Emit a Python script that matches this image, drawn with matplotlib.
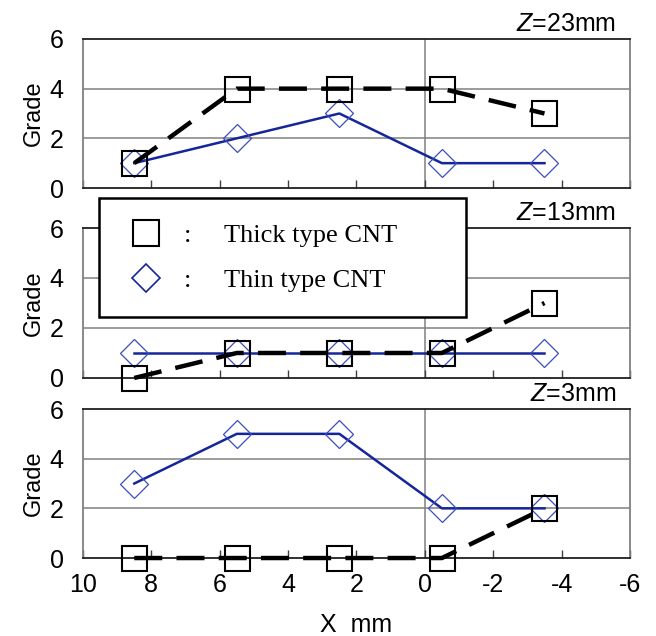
import matplotlib.pyplot as plt
from matplotlib.lines import Line2D

plt.rcParams['font.family'] = ['Liberation Sans', 'DejaVu Sans']
plt.rcParams['axes.unicode_minus'] = False
plt.rcParams['mathtext.fontset'] = 'custom'
plt.rcParams['mathtext.it'] = 'Liberation Sans:italic'
plt.rcParams['mathtext.rm'] = 'Liberation Sans'

# Data
x_mm = [8.5, 5.5, 2.5, -0.5, -3.5]
z_labels = ['23mm', '13mm', '3mm']
thick_cnt = [
    [1, 4, 4, 4, 3],   # Z=23mm
    [0, 1, 1, 1, 3],   # Z=13mm
    [0, 0, 0, 0, 2],   # Z=3mm
]
thin_cnt = [
    [1, 2, 3, 1, 1],
    [1, 1, 1, 1, 1],
    [3, 5, 5, 2, 2],
]
x_ticks = [10, 8, 6, 4, 2, 0, -2, -4, -6]
y_ticks = [0, 2, 4, 6]

fig = plt.figure(figsize=(6.56, 6.36), dpi=100)

# panel boxes [left, bottom, width, height] in figure fraction
boxes = [
    [0.1265, 0.7044, 0.8338, 0.2343],
    [0.1265, 0.4057, 0.8338, 0.2358],
    [0.1265, 0.1226, 0.8338, 0.2343],
]

thin_color = '#14269a'
diamond_color = '#3a4cc0'
grid_color = '#808080'

axes = []
for i, box in enumerate(boxes):
    ax = fig.add_axes(box)
    axes.append(ax)

    # gridlines at 2 and 4, vertical line at x=0
    for yv in [2, 4]:
        ax.axhline(yv, color=grid_color, lw=1.1, zorder=1)
    ax.axvline(0, color=grid_color, lw=1.1, zorder=1)

    # thin type CNT - blue solid line, hollow diamonds
    ax.plot(x_mm, thin_cnt[i], color=thin_color, lw=1.8, zorder=3)
    ax.plot(x_mm, thin_cnt[i], ls='none', marker='D', ms=14,
            mfc='none', mec=diamond_color, mew=0.9, zorder=4,
            clip_on=False)

    # thick type CNT - black dashed line, hollow squares
    ax.plot(x_mm, thick_cnt[i], color='black', lw=3.2, dashes=(6.3, 3.2),
            zorder=5, clip_on=False)
    ax.plot(x_mm, thick_cnt[i], ls='none', marker='s', ms=18,
            mfc='none', mec='black', mew=1.5, zorder=6, clip_on=False)

    ax.set_xlim(10, -6)
    ax.set_ylim(0, 6)
    ax.set_xticks(x_ticks)
    ax.set_yticks(y_ticks)
    ax.tick_params(axis='x', direction='in', length=6, width=1,
                   color='#404040', labelsize=18, pad=11)
    ax.tick_params(axis='y', length=0, labelsize=18, pad=14)
    if i < 2:
        ax.tick_params(axis='x', labelbottom=False)
    for side in ['left', 'right']:
        ax.spines[side].set_color(grid_color)
        ax.spines[side].set_linewidth(1.3)
    for side in ['top', 'bottom']:
        ax.spines[side].set_color('#202020')
        ax.spines[side].set_linewidth(1.3)

    ax.set_ylabel('Grade', fontsize=17, labelpad=3)
    ax.text(0.975, 1.02, r'$\mathit{Z}$=' + z_labels[i], transform=ax.transAxes,
            ha='right', va='bottom', fontsize=18)

axes[-1].set_xlabel('X  mm', fontsize=18, labelpad=11)

# legend
handles = [
    Line2D([], [], ls='none', marker='s', ms=19, mfc='none', mec='black', mew=1.5),
    Line2D([], [], ls='none', marker='D', ms=14, mfc='none', mec=thin_color, mew=1.2),
]
labels = [':     Thick type CNT', ':     Thin type CNT']
leg = fig.legend(handles, labels, loc='upper left',
                 bbox_to_anchor=(0.151, 0.688, 0.559, 0.0), mode='expand',
                 prop={'family': 'Liberation Serif', 'size': 19},
                 frameon=True, fancybox=False, edgecolor='black',
                 framealpha=1, borderpad=0.95, labelspacing=0.83,
                 handlelength=1.67, handletextpad=0.6, borderaxespad=0)
leg.get_frame().set_linewidth(1.8)

plt.savefig('out.png', dpi=100, facecolor='white')
